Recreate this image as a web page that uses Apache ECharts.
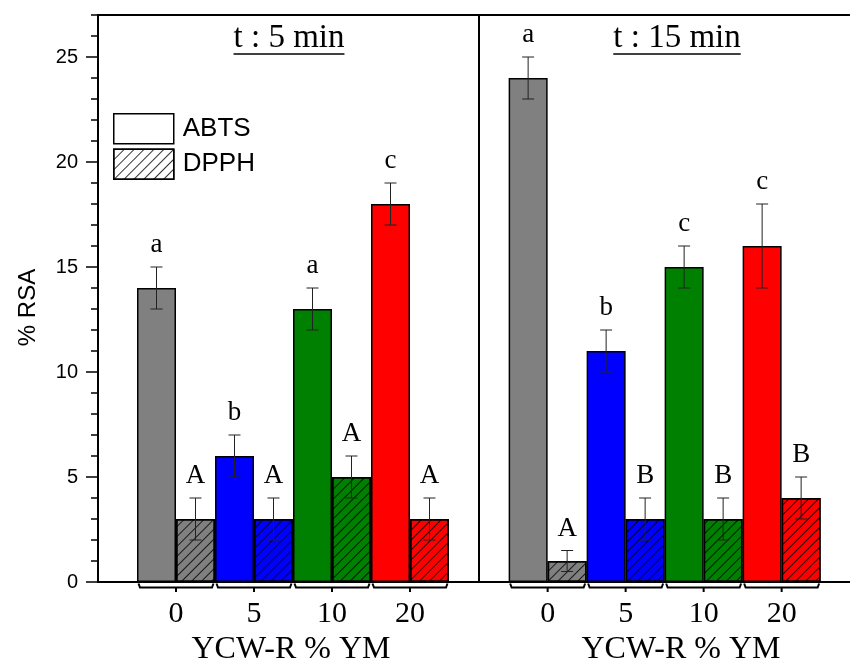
<!DOCTYPE html>
<html><head><meta charset="utf-8">
<script src="https://cdn.jsdelivr.net/npm/echarts@6/dist/echarts.min.js"></script>
<style>html,body{margin:0;padding:0;background:#fff}#c{width:850px;height:663px}</style>
</head><body><div id="c"></div>
<script>
// ---- data ----
const categories = ['0', '5', '10', '20'];
const groupColors = ['#808080', '#0000ff', '#008000', '#ff0000'];
const abts5 = [14, 6, 13, 18];
const abts5Err = [1, 1, 1, 1];
const dpph5 = [3, 3, 5, 3];
const dpph5Err = [1, 1, 1, 1];
const abts15 = [24, 11, 15, 16];
const abts15Err = [1, 1, 1, 2];
const dpph15 = [1, 3, 3, 4];
const dpph15Err = [0.5, 1, 1, 1];
const abts5Letters = ['a', 'b', 'a', 'c'];
const dpph5Letters = ['A', 'A', 'A', 'A'];
const abts15Letters = ['a', 'b', 'c', 'c'];
const dpph15Letters = ['A', 'B', 'B', 'B'];
const yTicks = [0, 5, 10, 15, 20, 25];
const panelTitles = ['t : 5 min', 't : 15 min'];
const seriesNames = ['ABTS', 'DPPH'];
const xName = 'YCW-R % YM';
const yName = '% RSA';

// ---- layout / style ----
const SERIF = '"Liberation Serif","Times New Roman",serif';
const SANS = '"Liberation Sans",Arial,sans-serif';
const BAR_W = 39, UNIT = 78;
const HATCH = { symbol: 'rect', symbolSize: 1, dashArrayX: [1, 0], dashArrayY: [1, 5.5], rotation: -Math.PI / 4, color: 'rgba(0,0,0,0.8)' };
const LINE = { color: '#000', width: 2 };

const chart = echarts.init(document.getElementById('c'), null, { renderer: 'canvas' });

function bars(name, vals, xi, yi, hatched) {
  const s = {
    type: 'bar', name, xAxisIndex: xi, yAxisIndex: yi, barWidth: BAR_W, barGap: '0%', z: 2,
    data: vals.map((v, i) => ({ value: [i + 1, v], itemStyle: { color: groupColors[i] } })),
    itemStyle: { borderColor: '#000', borderWidth: 1.5 }
  };
  if (hatched) s.itemStyle.decal = HATCH;
  return s;
}

function errors(vals, errs, letters, side, xi, yi) {
  return {
    type: 'custom', xAxisIndex: xi, yAxisIndex: yi, z: 5, silent: true,
    data: vals.map((v, i) => [i + 1, v]),
    renderItem: (params, api) => {
      const i = params.dataIndex;
      const x = api.value(0), v = api.value(1), e = errs[i];
      const cx = api.coord([x, v])[0] + side * BAR_W / 2;
      const yHi = api.coord([x, v + e])[1];
      const yLo = api.coord([x, v - e])[1];
      const st = { stroke: '#222', lineWidth: 1 };
      return { type: 'group', children: [
        { type: 'line', shape: { x1: cx, y1: yHi, x2: cx, y2: yLo }, style: st },
        { type: 'line', shape: { x1: cx - 6, y1: yHi, x2: cx + 6, y2: yHi }, style: st },
        { type: 'line', shape: { x1: cx - 6, y1: yLo, x2: cx + 6, y2: yLo }, style: st },
        { type: 'text', style: { text: letters[i], x: cx, y: yHi - 22, align: 'center', verticalAlign: 'middle', fill: '#000', font: '27px ' + SERIF } }
      ] };
    }
  };
}

function brackets(xi, yi) {
  return {
    type: 'custom', xAxisIndex: xi, yAxisIndex: yi, z: 6, silent: true, clip: false,
    data: categories.map((c, i) => [i + 1, 0]),
    renderItem: (params, api) => {
      const p = api.coord([api.value(0), 0]);
      const xL = p[0] - BAR_W + 1.5, xR = p[0] + BAR_W - 1.5, y0 = p[1];
      const st = { stroke: '#000', lineWidth: 2, fill: null };
      return { type: 'group', children: [
        { type: 'polyline', shape: { points: [[xL, y0 + 1.5], [xL + 1.5, y0 + 5.5], [xR - 1.5, y0 + 5.5], [xR, y0 + 1.5]] }, style: st },
        { type: 'line', shape: { x1: p[0], y1: y0 + 5.5, x2: p[0], y2: y0 + 10 }, style: { stroke: '#000', lineWidth: 2 } }
      ] };
    }
  };
}

const ctx = document.createElement('canvas').getContext('2d');
ctx.font = '33px ' + SERIF;
const titleX = [289, 677];
const graphic = [];
panelTitles.forEach((t, i) => {
  const w = ctx.measureText(t).width;
  graphic.push({ type: 'text', left: titleX[i] - w / 2, top: 22, style: { text: t, fill: '#000', font: '33px ' + SERIF } });
  graphic.push({ type: 'line', shape: { x1: titleX[i] - w / 2, y1: 54, x2: titleX[i] + w / 2, y2: 54 }, style: { stroke: '#000', lineWidth: 1.5 } });
});

const leftW = 381, rightW = 373, rightMin = 0.12;
const xLabel = {
  customValues: [1, 2, 3, 4], formatter: v => categories[Math.round(v) - 1],
  fontFamily: SERIF, fontSize: 30, color: '#000', margin: 17
};
const option = {
  backgroundColor: '#fff',
  animation: false,
  grid: [
    { left: 98, top: 15, width: leftW, height: 567, outerBoundsMode: 'none', containLabel: false },
    { left: 479, top: 15, width: rightW, height: 567, outerBoundsMode: 'none', containLabel: false }
  ],
  xAxis: [
    { gridIndex: 0, type: 'value', position: 'bottom', min: 0, max: leftW / UNIT,
      axisLine: { onZero: false, lineStyle: LINE }, axisTick: { show: false }, splitLine: { show: false },
      axisLabel: xLabel, name: xName, nameLocation: 'middle', nameGap: 51,
      nameTextStyle: { fontFamily: SERIF, fontSize: 32, color: '#000', padding: [0, 0, 0, 5] } },
    { gridIndex: 0, type: 'value', position: 'top', min: 0, max: leftW / UNIT,
      axisLine: { onZero: false, lineStyle: LINE }, axisTick: { show: false }, axisLabel: { show: false }, splitLine: { show: false } },
    { gridIndex: 1, type: 'value', position: 'bottom', min: rightMin, max: rightMin + rightW / UNIT,
      axisLine: { onZero: false, lineStyle: LINE }, axisTick: { show: false }, splitLine: { show: false },
      axisLabel: xLabel, name: xName, nameLocation: 'middle', nameGap: 51,
      nameTextStyle: { fontFamily: SERIF, fontSize: 32, color: '#000', padding: [0, 0, 0, 31] } },
    { gridIndex: 1, type: 'value', position: 'top', min: rightMin, max: rightMin + rightW / UNIT,
      axisLine: { onZero: false, lineStyle: LINE }, axisTick: { show: false }, axisLabel: { show: false }, splitLine: { show: false } }
  ],
  yAxis: [
    { gridIndex: 0, type: 'value', position: 'left', min: 0, max: 27, interval: 5,
      axisLine: { show: true, onZero: false, lineStyle: LINE },
      axisTick: { show: true, length: 12, customValues: yTicks, lineStyle: { color: '#000', width: 1.5 } },
      axisLabel: { customValues: yTicks, fontFamily: SANS, fontSize: 20, color: '#000', margin: 20 },
      splitLine: { show: false },
      name: yName, nameLocation: 'middle', nameGap: 58,
      nameTextStyle: { fontFamily: SANS, fontSize: 24, color: '#000', padding: [0, 18, 0, 0] } },
    { gridIndex: 0, type: 'value', position: 'left', min: 0, max: 27, interval: 1,
      axisLine: { show: false, onZero: false }, axisTick: { show: true, length: 7, lineStyle: { color: '#000', width: 1.5 } },
      axisLabel: { show: false }, splitLine: { show: false } },
    { gridIndex: 1, type: 'value', position: 'left', min: 0, max: 27,
      axisLine: { show: true, onZero: false, lineStyle: LINE }, axisTick: { show: false }, axisLabel: { show: false }, splitLine: { show: false } }
  ],
  legend: {
    left: 113, top: 113, orient: 'vertical', itemWidth: 60, itemHeight: 30, itemGap: 4, padding: 0,
    icon: 'rect', selectedMode: false,
    textStyle: { fontFamily: SANS, fontSize: 26, color: '#000', padding: [0, 0, 0, 4] },
    data: [
      { name: seriesNames[0], itemStyle: { color: '#fff', borderColor: '#000', borderWidth: 1.5 } },
      { name: seriesNames[1], itemStyle: { color: '#fff', borderColor: '#000', borderWidth: 1.5, decal: HATCH } }
    ]
  },
  graphic,
  series: [
    bars(seriesNames[0], abts5, 0, 0, false),
    bars(seriesNames[1], dpph5, 0, 0, true),
    bars(seriesNames[0], abts15, 2, 2, false),
    bars(seriesNames[1], dpph15, 2, 2, true),
    errors(abts5, abts5Err, abts5Letters, -1, 0, 0),
    errors(dpph5, dpph5Err, dpph5Letters, 1, 0, 0),
    errors(abts15, abts15Err, abts15Letters, -1, 2, 2),
    errors(dpph15, dpph15Err, dpph15Letters, 1, 2, 2),
    brackets(0, 0),
    brackets(2, 2)
  ]
};
chart.setOption(option);
</script></body></html>
